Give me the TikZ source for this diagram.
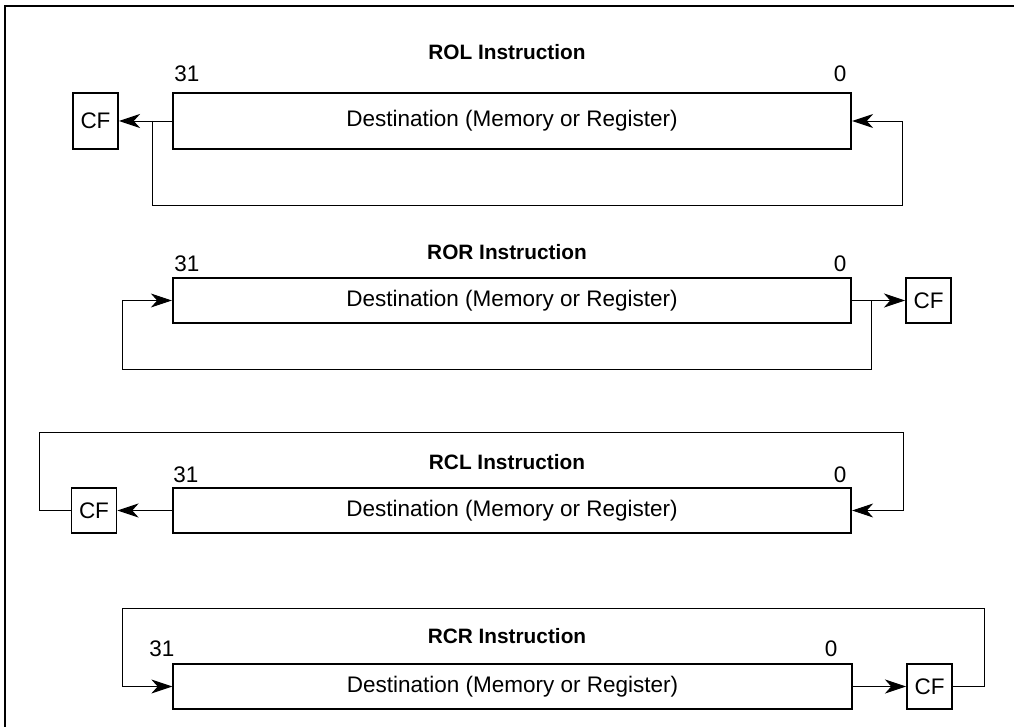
\documentclass[tikz,border=0pt]{standalone}
\usepackage{fontspec}
\setmainfont{Liberation Sans}
\usetikzlibrary{arrows.meta}

\tikzset{
  regbox/.style={draw, line width=1.4pt, minimum width=16.95cm, minimum height=1.125cm, inner sep=0pt},
  cfbox/.style={draw, line width=1.4pt, minimum width=1.125cm, minimum height=1.125cm, inner sep=0pt},
  bitno/.style={inner sep=0pt},
  title/.style={inner sep=0pt, font=\fontsize{14.8}{18}\selectfont\bfseries},
  flow/.style={line width=0.7pt, -{Stealth[length=15pt, width=10pt, inset=4.5pt]}},
  wire/.style={line width=0.7pt}
}

\begin{document}
\begin{tikzpicture}[x=0.025cm, y=-0.025cm, font=\fontsize{16}{19}\selectfont]
      \useasboundingbox (0,0) rectangle (1014,727);
      \draw[line width=1.4pt] (5,727) -- (5,6) -- (1014,6);

      % ROL
      \node[title] (roltitle) at (507,52) {ROL Instruction};
      \node[regbox, minimum height=1.4cm] (rolbox) at (512,121) {Destination (Memory or Register)};
      \node[cfbox, minimum height=1.4cm] (rolcf) at (95.5,121) {CF};
      \node[bitno] (rolhi) at (187,74) {31};
      \node[bitno] (rollo) at (840,74) {0};
      \coordinate (rolsplit) at (152,121);
      \coordinate (rolback) at (902,205);
      \draw[flow] (rolbox.west) -- (rolcf.east);
      \draw[flow] (rolsplit) |- (rolback) |- (rolbox.east);

      % ROR
      \node[title] (rortitle) at (507,252) {ROR Instruction};
      \node[regbox] (rorbox) at (512,300.5) {Destination (Memory or Register)};
      \node[cfbox] (rorcf) at (928.5,300.5) {CF};
      \node[bitno] (rorhi) at (187,264) {31};
      \node[bitno] (rorlo) at (840,264) {0};
      \coordinate (rorsplit) at (871,300.5);
      \coordinate (rorback) at (122,369);
      \draw[flow] (rorbox.east) -- (rorcf.west);
      \draw[flow] (rorsplit) |- (rorback) |- (rorbox.west);

      % RCL
      \node[title] (rcltitle) at (507,462) {RCL Instruction};
      \node[regbox] (rclbox) at (512,510.5) {Destination (Memory or Register)};
      \node[cfbox] (rclcf) at (94,510.5) {CF};
      \node[bitno] (rclhi) at (186,475) {31};
      \node[bitno] (rcllo) at (840,475) {0};
      \coordinate (rcltopl) at (39,432);
      \coordinate (rcltopr) at (903,432);
      \draw[flow] (rclbox.west) -- (rclcf.east);
      \draw[flow] (rclcf.west) -| (rcltopl) -- (rcltopr) |- (rclbox.east);

      % RCR
      \node[title] (rcrtitle) at (507,636) {RCR Instruction};
      \node[regbox] (rcrbox) at (512.5,686.5) {Destination (Memory or Register)};
      \node[cfbox] (rcrcf) at (929.5,686.5) {CF};
      \node[bitno] (rcrhi) at (162,649) {31};
      \node[bitno] (rcrlo) at (831,649) {0};
      \coordinate (rcrtopl) at (122,608);
      \coordinate (rcrtopr) at (984,608);
      \draw[flow] (rcrbox.east) -- (rcrcf.west);
      \draw[flow] (rcrcf.east) -| (rcrtopr) -- (rcrtopl) |- (rcrbox.west);
\end{tikzpicture}
\end{document}
